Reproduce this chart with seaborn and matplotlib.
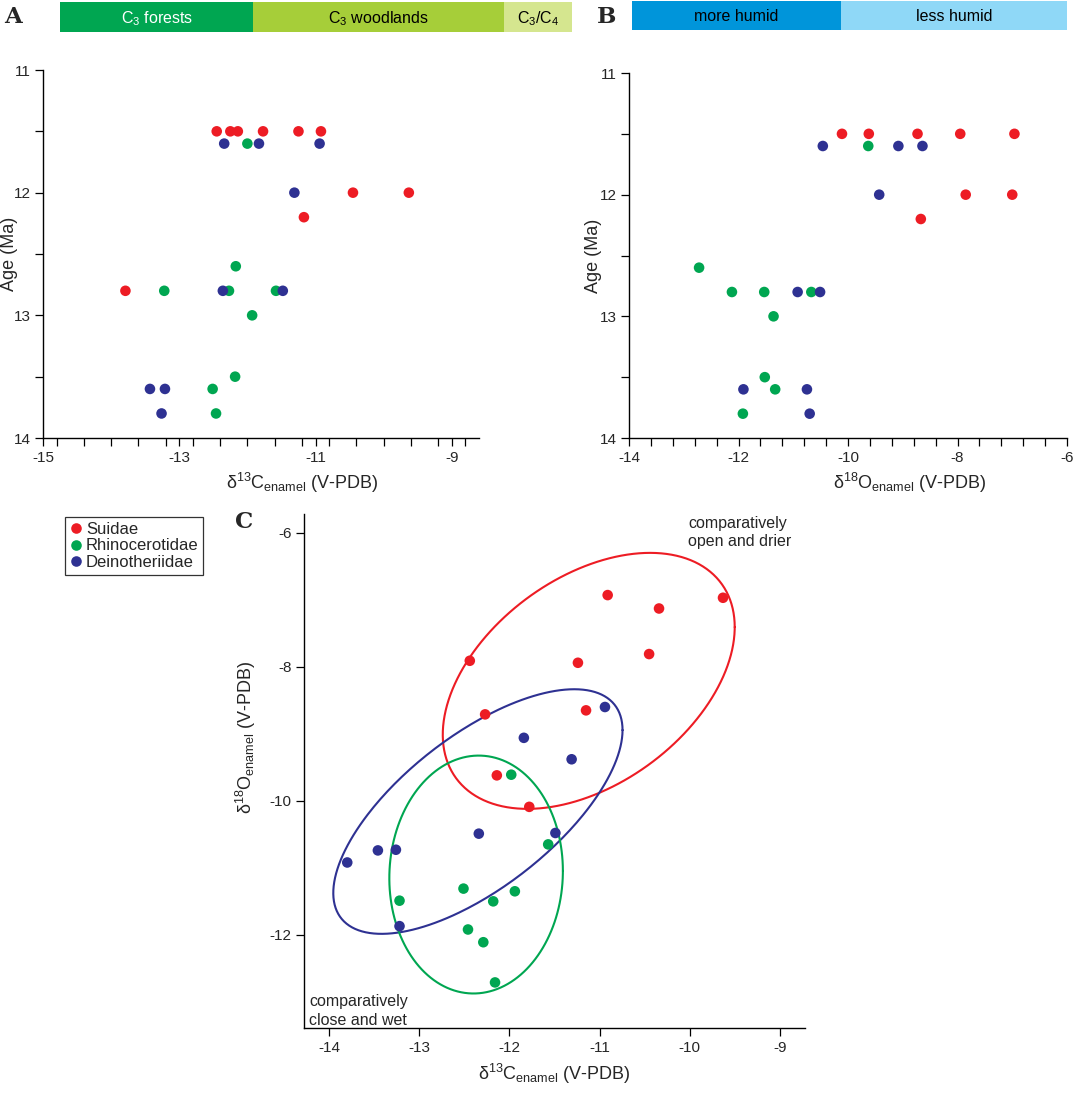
import numpy as np
import pandas as pd
import seaborn as sns
import matplotlib.pyplot as plt
from matplotlib.ticker import MultipleLocator, FixedLocator

families = ["Suidae", "Rhinocerotidae", "Deinotheriidae"]
palette = {"Suidae": "#ED1C24", "Rhinocerotidae": "#00A651", "Deinotheriidae": "#2E3192"}

# panel A: d13C vs age
a_fam = ["Suidae"] * 10 + ["Rhinocerotidae"] * 9 + ["Deinotheriidae"] * 9
a_c13 = [-12.45, -12.25, -12.14, -11.77, -11.25, -10.92, -10.45, -9.63, -11.17, -13.79,
         -12.0, -12.17, -13.22, -12.27, -11.58, -11.93, -12.18, -12.51, -12.46,
         -12.34, -11.83, -10.94, -11.31, -12.36, -11.48, -13.43, -13.21, -13.26]
a_age = [11.5, 11.5, 11.5, 11.5, 11.5, 11.5, 12.0, 12.0, 12.2, 12.8,
         11.6, 12.6, 12.8, 12.8, 12.8, 13.0, 13.5, 13.6, 13.8,
         11.6, 11.6, 11.6, 12.0, 12.8, 12.8, 13.6, 13.6, 13.8]

# panel B: d18O vs age
b_fam = ["Suidae"] * 8 + ["Rhinocerotidae"] * 9 + ["Deinotheriidae"] * 9
b_o18 = [-10.11, -9.62, -8.73, -7.95, -6.96, -7.85, -7.0, -8.67,
         -9.63, -12.72, -12.12, -11.53, -10.67, -11.36, -11.52, -11.33, -11.92,
         -10.46, -9.08, -8.64, -9.43, -10.92, -10.51, -11.91, -10.75, -10.70]
b_age = [11.5, 11.5, 11.5, 11.5, 11.5, 12.0, 12.0, 12.2,
         11.6, 12.6, 12.8, 12.8, 12.8, 13.0, 13.5, 13.6, 13.8,
         11.6, 11.6, 11.6, 12.0, 12.8, 12.8, 13.6, 13.6, 13.8]

# panel C: d13C vs d18O
c_fam = ["Suidae"] * 10 + ["Rhinocerotidae"] * 9 + ["Deinotheriidae"] * 9
c_c13 = [-12.44, -11.24, -10.91, -10.34, -9.63, -10.45, -12.27, -11.15, -12.14, -11.78,
         -11.98, -11.57, -12.51, -11.94, -13.22, -12.18, -12.46, -12.29, -12.16,
         -10.94, -11.84, -11.31, -12.34, -11.49, -13.80, -13.46, -13.26, -13.22]
c_o18 = [-7.91, -7.94, -6.93, -7.13, -6.97, -7.81, -8.71, -8.65, -9.62, -10.09,
         -9.61, -10.65, -11.31, -11.35, -11.49, -11.50, -11.92, -12.11, -12.71,
         -8.60, -9.06, -9.38, -10.49, -10.48, -10.92, -10.74, -10.73, -11.87]

# ellipses in panel C (center, half extents, correlation)
ell_fam = ["Suidae", "Deinotheriidae", "Rhinocerotidae"]
ell_cx = [-11.12, -12.35, -12.37]
ell_cy = [-8.21, -10.16, -11.10]
ell_sx = [1.62, 1.605, 0.963]
ell_sy = [1.91, 1.825, 1.775]
ell_rho = [0.42, 0.666, 0.03]

# habitat bars
a_bar_labels = ["C$_3$ forests", "C$_3$ woodlands", "C$_3$/C$_4$"]
a_bar_edges = [-14.75, -11.9, -8.2, -7.2]
a_bar_colors = ["#00A651", "#A6CE39", "#D5E68F"]
a_bar_text = ["white", "black", "black"]
b_bar_labels = ["more humid", "less humid"]
b_bar_edges = [-13.95, -10.13, -6.0]
b_bar_colors = ["#0095DA", "#8FD8F7"]

df_a = pd.DataFrame({"family": a_fam, "c13": a_c13, "age": a_age})
df_b = pd.DataFrame({"family": b_fam, "o18": b_o18, "age": b_age})
df_c = pd.DataFrame({"family": c_fam, "c13": c_c13, "o18": c_o18})

sns.set_style("ticks")
plt.rcParams["font.family"] = ["Liberation Sans", "DejaVu Sans"]
plt.rcParams["mathtext.fontset"] = "custom"
plt.rcParams["mathtext.rm"] = "Liberation Sans"
plt.rcParams["mathtext.it"] = "Liberation Sans:italic"
plt.rcParams["mathtext.default"] = "regular"
plt.rcParams["axes.unicode_minus"] = False

W, H = 1081, 1094
fig = plt.figure(figsize=(W / 100, H / 100), dpi=100)


def px_axes(x0, y0, x1, y1):
    return fig.add_axes([x0 / W, 1 - y1 / H, (x1 - x0) / W, (y1 - y0) / H])


xlab13 = r"$\delta^{13}$C$_{enamel}$ (V-PDB)"
xlab18 = r"$\delta^{18}$O$_{enamel}$ (V-PDB)"
tick_kw = dict(direction="out", length=5.5, width=0.9, color="black", labelsize=11)


def style(ax):
    sns.despine(ax=ax)
    for s in ["left", "bottom"]:
        ax.spines[s].set_linewidth(1.0)
        ax.spines[s].set_color("black")
    ax.tick_params(which="both", **tick_kw)


# ---- panel A
axA = px_axes(43, 70, 479, 438)
sns.scatterplot(data=df_a, x="c13", y="age", hue="family", hue_order=families,
                palette=palette, s=58, linewidth=0, legend=False, ax=axA, zorder=3)
axA.set_xlim(-15, -8.6)
axA.set_ylim(14, 11)
axA.xaxis.set_major_locator(FixedLocator([-15, -13, -11, -9]))
axA.xaxis.set_minor_locator(MultipleLocator(0.4))
axA.yaxis.set_major_locator(MultipleLocator(1))
axA.yaxis.set_minor_locator(MultipleLocator(0.5))
style(axA)
axA.set_xlabel(xlab13, fontsize=13)
axA.set_ylabel("Age (Ma)", fontsize=13)
axA.xaxis.set_label_coords(0.594, -0.09)
axA.yaxis.set_label_coords(-0.058, 0.5)

# ---- panel B
axB = px_axes(629, 73, 1067, 438)
sns.scatterplot(data=df_b, x="o18", y="age", hue="family", hue_order=families,
                palette=palette, s=58, linewidth=0, legend=False, ax=axB, zorder=3)
axB.set_xlim(-14, -6)
axB.set_ylim(14, 11)
axB.xaxis.set_major_locator(MultipleLocator(2))
axB.xaxis.set_minor_locator(MultipleLocator(0.4))
axB.yaxis.set_major_locator(MultipleLocator(1))
axB.yaxis.set_minor_locator(MultipleLocator(0.5))
style(axB)
axB.set_xlabel(xlab18, fontsize=13)
axB.set_ylabel("Age (Ma)", fontsize=13)
axB.xaxis.set_label_coords(0.64, -0.09)
axB.yaxis.set_label_coords(-0.062, 0.5)

# ---- panel C
axC = px_axes(304, 514, 805, 1028)
t = np.linspace(0, 2 * np.pi, 300)
for fam, cx, cy, sx, sy, r in zip(ell_fam, ell_cx, ell_cy, ell_sx, ell_sy, ell_rho):
    cov = np.array([[sx * sx, r * sx * sy], [r * sx * sy, sy * sy]])
    L = np.linalg.cholesky(cov)
    pts = L @ np.vstack([np.cos(t), np.sin(t)])
    axC.plot(cx + pts[0], cy + pts[1], color=palette[fam], lw=1.5, zorder=2)
sns.scatterplot(data=df_c, x="c13", y="o18", hue="family", hue_order=families,
                palette=palette, s=58, linewidth=0, ax=axC, zorder=3)
axC.set_xlim(-14.28, -8.72)
axC.set_ylim(-13.39, -5.72)
axC.xaxis.set_major_locator(MultipleLocator(1))
axC.yaxis.set_major_locator(MultipleLocator(2))
style(axC)
axC.set_xlabel(xlab13, fontsize=13)
axC.set_ylabel(xlab18, fontsize=13)
axC.xaxis.set_label_coords(0.5, -0.066)
axC.yaxis.set_label_coords(-0.092, 0.565)
axC.text(0.767, 0.997, "comparatively\nopen and drier", transform=axC.transAxes,
         ha="left", va="top", fontsize=11.5, linespacing=1.3)
axC.text(0.01, 0.066, "comparatively\nclose and wet", transform=axC.transAxes,
         ha="left", va="top", fontsize=11.5, linespacing=1.3)

sns.move_legend(axC, loc="upper left", bbox_to_anchor=(65 / W, 1 - 517 / H),
                bbox_transform=fig.transFigure, title=None, frameon=True,
                fontsize=12, labelspacing=0.08, borderpad=0.3, handlelength=0.7,
                handletextpad=0.25, borderaxespad=0, markerscale=1.0)
leg = axC.get_legend()
leg.get_frame().set_edgecolor("black")
leg.get_frame().set_linewidth(0.9)
leg.get_frame().set_boxstyle("square", pad=0)

# ---- habitat bars
barA = px_axes(60, 2, 572, 32)
barA.barh(0, np.diff(a_bar_edges), left=a_bar_edges[:-1], height=1,
          color=a_bar_colors, edgecolor="none")
for lab, l, r, tc in zip(a_bar_labels, a_bar_edges[:-1], a_bar_edges[1:], a_bar_text):
    barA.text((l + r) / 2, -0.05, lab, ha="center", va="center", fontsize=11.5, color=tc)
barA.set_xlim(a_bar_edges[0], a_bar_edges[-1])
barA.set_ylim(-0.5, 0.5)
barA.axis("off")

barB = px_axes(632, 1, 1067, 30)
barB.barh(0, np.diff(b_bar_edges), left=b_bar_edges[:-1], height=1,
          color=b_bar_colors, edgecolor="none")
for lab, l, r in zip(b_bar_labels, b_bar_edges[:-1], b_bar_edges[1:]):
    barB.text((l + r) / 2, -0.05, lab, ha="center", va="center", fontsize=11.5, color="black")
barB.set_xlim(b_bar_edges[0], b_bar_edges[-1])
barB.set_ylim(-0.5, 0.5)
barB.axis("off")

# panel letters
for lab, x, y in [("A", 4, 17), ("B", 597, 17), ("C", 235, 522)]:
    fig.text(x / W, 1 - y / H, lab, family="DejaVu Serif", fontweight="heavy",
             fontsize=16.5, ha="left", va="center")

fig.savefig("out.png", dpi=100)
